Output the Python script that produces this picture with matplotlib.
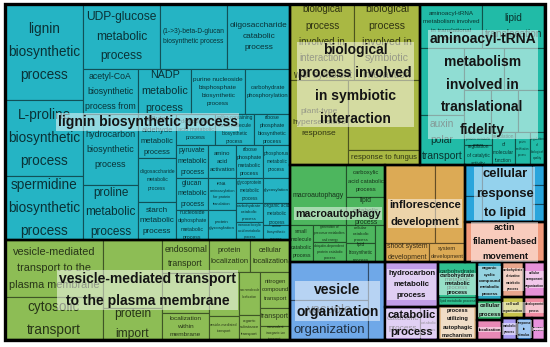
import textwrap
import matplotlib
matplotlib.use('Agg')
import matplotlib.pyplot as plt
import matplotlib.colors as mcolors
from matplotlib.patches import Rectangle
from matplotlib.font_manager import FontProperties

plt.rcParams['font.family'] = ['Liberation Sans', 'DejaVu Sans']

# ---- data: GO terms, sizes (cell areas) and how each group is split ----
# a tree node is a leaf index or ['x'|'y', child, child, ...]
lignin_terms = [
    "lignin biosynthetic process", "L-proline biosynthetic process", "spermidine biosynthetic process",
    "UDP-glucose metabolic process", "(1->3)-beta-D-glucan biosynthetic process", "oligosaccharide catabolic process",
    "acetyl-CoA biosynthetic process from", "NADP metabolic process",
    "purine nucleoside bisphosphate biosynthetic process", "carbohydrate phosphorylation",
    "hydrocarbon biosynthetic process", "proline metabolic process",
    "cellular aldehyde metabolic process", "oligosaccharide metabolic process", "starch metabolic process",
    "dicarboxylic acid metabolic process", "sulfur-containing small molecule biosynthetic process",
    "ribose phosphate biosynthetic process",
    "pyruvate metabolic process", "glucan metabolic process", "nucleoside diphosphate metabolic process",
    "amino acid activation", "tRNA aminoacylation for protein translation", "protein glycosylation",
    "ribose phosphate metabolic process", "glycoprotein metabolic process", "carbohydrate catabolic process",
    "monocarboxylic acid metabolic process",
    "phosphorus metabolic process", "glycosylation", "organic acid metabolic process", "amine biosynthetic process",
]
lignin_sizes = [7488, 5928, 4992, 5005, 4355, 4095, 2475, 2385, 2430, 2025, 3905, 3025,
                1672, 1672, 1444, 1209, 1209, 1116, 1056, 1024, 960, 924, 896, 840,
                891, 675, 513, 486, 891, 675, 594, 405]
lignin_tree = ['x', ['y', 0, 1, 2],
               ['y', ['x', 3, 4, 5], ['x', 6, 7, 8, 9],
                ['x', ['y', 10, 11], ['y', 12, 13, 14],
                 ['y', ['x', 15, 16, 17],
                  ['x', ['y', 18, 19, 20], ['y', 21, 22, 23], ['y', 24, 25, 26, 27], ['y', 28, 29, 30, 31]]]]]]

vesmed_terms = [
    "vesicle-mediated transport to the plasma membrane", "cytosolic transport", "", "protein import",
    "endosomal transport", "", "localization within membrane", "protein localization", "cellular localization",
    "", "vesicle-mediated transport", "macromolecule localization", "organic substance transport",
    "nitrogen compound transport", "transport", "monovalent inorganic ion transport",
]
vesmed_sizes = [5586, 4214, 4012, 1888, 1551, 1880, 1269, 1312, 1280, 1320, 720, 903, 525, 1080, 540, 420]
vesmed_tree = ['x', ['y', 0, 1], ['y', 2, 3], ['y', 4, 5, 6],
               ['y', ['x', 7, 8], ['x', ['y', 9, 10], ['y', 11, 12], ['y', 13, 14, 15]]]]

symb_terms = [
    "biological process involved in interaction with symbiont",
    "biological process involved in symbiotic interaction",
    "plant-type hypersensitive response", "", "response to fungus",
]
symb_sizes = [4864, 5016, 4930, 5040, 1080]
symb_tree = ['y', ['x', 0, 1], ['x', 2, ['y', 3, 4]]]

amino_terms = [
    "aminoacyl-tRNA metabolism involved in translational fidelity", "lipid translocation",
    "", "auxin polar transport", "", "", "", "", "",
    "regulation of protein metabolic process", "regulation of catalytic activity",
    "regulation of molecular function", "protein modification process", "regulation of biological quality",
]
amino_sizes = [2728, 2772, 2948, 2200, 1680, 1722, 1134, 1134, 1134, 364, 560, 759, 495, 495]
amino_tree = ['y', ['x', 0, 1],
              ['x', ['y', 2, 3],
               ['y', ['x', 4, 5], ['x', 6, 7, 8], ['x', ['y', 9, 10], 11, 12, 13]]]]

macro_terms = [
    "macroautophagy", "carboxylic acid catabolic process", "lipid catabolic process",
    "small molecule catabolic process", "generation of precursor metabolites and energy",
    "ubiquitin-dependent protein catabolic process", "cellular catabolic process",
    "lipid biosynthetic process", "organic substance catabolic process",
]
macro_sizes = [3360, 1248, 1092, 851, 561, 660, 522, 551, 370]
macro_tree = ['y', ['x', 0, ['y', 1, 2]], ['x', 3, ['y', 4, 5], ['y', 6, 7], 8]]

inflo_terms = ["", "", "shoot system development", "system development"]
inflo_sizes = [3850, 2310, 836, 684]
inflo_tree = ['y', ['x', 0, 1], ['x', 2, 3]]

lipid_terms = ["", "", "", "", "", ""]
lipid_sizes = [527, 442, 2850, 260, 247, 234]
lipid_tree = ['x', ['y', 0, 1], 2, ['y', 3, 4, 5]]

vesorg_terms = ["", "vacuole organization", ""]
vesorg_sizes = [2964, 3120, 1326]
vesorg_tree = ['x', ['y', 0, 1], 2]

catab_terms = ["catabolic process", "cellular catabolic process"]
catab_sizes = [1155, 594]
carb_terms = ["carbohydrate metabolic process", "lipid metabolic process"]
carb_sizes = [1365, 351]

# one-cell groups
solo_names = ["actin filament-based movement", "hydrocarbon metabolic process",
              "process utilizing autophagic mechanism", "organic cyclic compound metabolic process",
              "cellular process", "localization", "carbohydrate derivative metabolic process",
              "cellular component organization", "cell wall organization", "developmental process",
              "metabolic process", "response to stimulus", "biological regulation"]
solo_sizes = [3200, 2385, 1326, 950, 500, 500, 770, 735, 462, 441, 330, 330, 286]
solo_colors = ['#f19a7c', '#c19ee8', '#e2bc8f', '#2ba8c2', '#2fb36b', '#e889b6', '#e8a68d',
               '#e591d9', '#c8c44c', '#f08ca2', '#a99cf0', '#3d90e6', '#e892dc']

group_names = ["lignin biosynthetic process", "vesicle-mediated transport to the plasma membrane",
               "biological process involved in symbiotic interaction",
               "aminoacyl-tRNA metabolism involved in translational fidelity",
               "macroautophagy", "inflorescence development", "cellular response to lipid",
               "vesicle organization", "catabolic process", "carbohydrate metabolic process"]
group_colors = ['#25b4c4', '#8dbd55', '#a9b843', '#21bba7', '#4db65e', '#dcaa55', '#2aa5dc',
                '#6fa8e8', '#c4a1ea', '#2fc08f']

groups = [
    (group_names[0], group_colors[0], lignin_terms, lignin_sizes, lignin_tree),
    (group_names[1], group_colors[1], vesmed_terms, vesmed_sizes, vesmed_tree),
    (group_names[2], group_colors[2], symb_terms, symb_sizes, symb_tree),
    (group_names[3], group_colors[3], amino_terms, amino_sizes, amino_tree),
    (group_names[4], group_colors[4], macro_terms, macro_sizes, macro_tree),
    (group_names[5], group_colors[5], inflo_terms, inflo_sizes, inflo_tree),
    (group_names[6], group_colors[6], lipid_terms, lipid_sizes, lipid_tree),
    (group_names[7], group_colors[7], vesorg_terms, vesorg_sizes, vesorg_tree),
    (group_names[8], group_colors[8], catab_terms, catab_sizes, ['x', 0, 1]),
    (group_names[9], group_colors[9], carb_terms, carb_sizes, ['y', 0, 1]),
]
for n, s, c in zip(solo_names, solo_sizes, solo_colors):
    groups.append((n, c, [n], [s], 0))

# group indices: 0-9 above, 10 actin, 11 hydrocarbon, 12 autophagic, 13 compound, 14 cellular process,
# 15 localization, 16 derivative, 17 component org, 18 cell wall, 19 developmental, 20 metabolic,
# 21 stimulus, 22 regulation
top_tree = ['x', ['y', 0, 1],
            ['y', ['x', 2, 3],
             ['x', 4, 5, ['y', 6, 10]],
             ['x', 7, ['y', 11, 8], ['y', 9, 12], ['y', 13, 14, 15],
              ['y', ['x', 16, 17], ['x', 18, 19], ['x', 20, 21, 22]]]]]


def node_size(node, sizes):
    if isinstance(node, int):
        return sizes[node]
    return sum(node_size(c, sizes) for c in node[1:])


def layout(node, sizes, x, y, w, h, out):
    if isinstance(node, int):
        out[node] = (x, y, w, h)
        return
    total = node_size(node, sizes)
    pos = 0.0
    for c in node[1:]:
        f = node_size(c, sizes) / total
        if node[0] == 'x':
            layout(c, sizes, x + pos * w, y, f * w, h, out)
        else:
            layout(c, sizes, x, y + pos * h, w, f * h, out)
        pos += f


W, H = 540, 336
fig = plt.figure(figsize=(5.5, 3.47), dpi=100)
ax = fig.add_axes([5 / 550, 7 / 347, W / 550, H / 347])
ax.set_xlim(0, W)
ax.set_ylim(H, 0)
ax.axis('off')
renderer = fig.canvas.get_renderer()

EM10 = 10 * 100 / 72
props = {}
metrics = {}
for wt in ('normal', 'bold'):
    p = FontProperties(family=['Liberation Sans'], weight=wt, size=10)
    props[wt] = p
    _, lh, ld = renderer.get_text_width_height_descent("lp", p, ismath=False)
    metrics[wt] = ((lh - ld) / EM10, lh / EM10)
STEP = 1.42


def fit(text, w, h, wt, cap, fw, fh):
    cands = []
    seen = set()
    for width in range(len(text), 0, -1):
        lines = tuple(textwrap.wrap(text, width, break_on_hyphens=False, break_long_words=False))
        if lines in seen:
            continue
        seen.add(lines)
        lw = max(renderer.get_text_width_height_descent(l, props[wt], ismath=False)[0] for l in lines)
        n = len(lines)
        fs_w = 10 * fw * w / lw
        fs_h = fh * h / (((n - 1) * STEP + metrics[wt][1]) * 100 / 72)
        cands.append((min(cap, fs_w, fs_h), n, lw, lines))
    top = max(c[0] for c in cands)
    ok = [c for c in cands if c[0] >= top * 0.97]
    ok.sort(key=lambda c: (c[1], c[2]))
    return ok[0][0], ok[0][3]


def darker(c, k=0.45):
    r, g, b = mcolors.to_rgb(c)
    return (r * k, g * k, b * k)


gsizes = [sum(g[3]) for g in groups]
grects = {}
layout(top_tree, gsizes, 0, 0, W, H, grects)

for gi, (name, color, terms, sizes, tree) in enumerate(groups):
    gx, gy, gw, gh = grects[gi]
    cells = {}
    layout(tree, sizes, gx, gy, gw, gh, cells)
    for li, (x, y, w, h) in cells.items():
        ax.add_patch(Rectangle((x, y), w, h, fc=color, ec=darker(color), lw=0.8, zorder=1))
        if len(terms) > 1 and terms[li]:
            fs, lines = fit(terms[li], w, h, 'normal', 9.8, 0.92, 0.92)
            if fs >= 1.5:
                ax.text(x + w / 2, y + h / 2, "\n".join(lines), ha='center', va='center',
                        ma='center', fontsize=fs, color='black', alpha=0.72,
                        linespacing=STEP / metrics['normal'][0], zorder=2)
    ax.add_patch(Rectangle((gx, gy), gw, gh, fill=False, ec='black', lw=1.7, zorder=3))

for gi, (name, color, terms, sizes, tree) in enumerate(groups):
    gx, gy, gw, gh = grects[gi]
    fs, lines = fit(name, gw, gh, 'bold', 10, 0.9, 0.88)
    ax.text(gx + gw / 2, gy + gh / 2, "\n".join(lines), ha='center', va='center', ma='center',
            fontsize=fs, fontweight='bold', color='#141414',
            linespacing=STEP / metrics['bold'][0], zorder=5,
            bbox=dict(boxstyle='square,pad=0.12', fc='white', ec='none', alpha=0.5))

ax.add_patch(Rectangle((0, 0), W, H, fill=False, ec='black', lw=2.4, zorder=6, clip_on=False))

fig.savefig('out.png', dpi=100, facecolor='white')
